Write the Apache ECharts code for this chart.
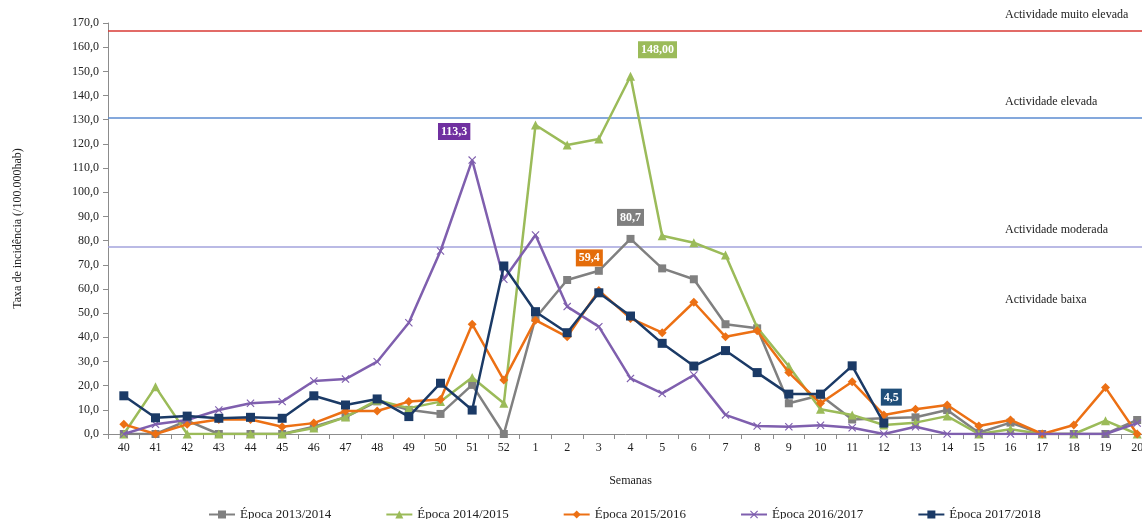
<!DOCTYPE html>
<html>
<head>
<meta charset="utf-8">
<script src="https://cdn.jsdelivr.net/npm/echarts@6/dist/echarts.min.js"></script>
<style>
html,body{margin:0;padding:0;background:#fff;}
#chart{width:1142px;height:519px;}
</style>
</head>
<body>
<div id="chart"></div>
<script>
const weeks = ['40','41','42','43','44','45','46','47','48','49','50','51','52','1','2','3','4','5','6','7','8','9','10','11','12','13','14','15','16','17','18','19','20'];
const epoca1314 = [0,0,5.5,0,0,0,3,7,13.5,10,8.3,20.3,0,48,63.7,67.5,80.7,68.5,64,45.4,43.7,12.7,16,6,6.5,6.9,9.9,0.5,4.7,0,0,0,5.8];
const epoca1415 = [0,19.5,0,0,0,0,2.5,7,14,10.7,13.4,23.4,12.7,127.8,119.5,122,148,82,79.1,74,44,28,10.2,7.9,3.7,4.7,7.4,0,2,0,0,5.5,0];
const epoca1516 = [4,0,4,6,6,3,4.5,9.5,9.5,13.4,14.3,45.4,22.3,47.1,40.2,59.4,47.8,41.9,54.5,40.2,42.7,25.4,12.7,21.6,7.9,10.2,12,3.3,5.8,0,3.7,19.2,0];
const epoca1617 = [0,4,5.8,9.9,12.7,13.4,21.9,22.7,29.9,46,75.7,113.3,64,82.3,52.7,44.4,23,16.8,24.4,7.9,3.3,3,3.6,2.6,0,3,0,0,0,0,0,0,4.5];
const epoca1718 = [15.8,6.7,7.4,6.5,6.9,6.5,15.8,12,14.5,7.2,21,9.9,69.5,50.6,41.9,58.4,48.8,37.5,28.1,34.5,25.4,16.5,16.5,28.2,4.5,null,null,null,null,null,null,null,null];
const seriesNames = ['Época 2013/2014','Época 2014/2015','Época 2015/2016','Época 2016/2017','Época 2017/2018'];
const thresholdValues = [166.8, 130.9, 77.3];
const thresholdNames = ['Actividade muito elevada','Actividade elevada','Actividade moderada','Actividade baixa'];
const peakLabels = [
  {series: 3, week: '51', text: '113,3'},
  {series: 1, week: '4', text: '148,00'},
  {series: 0, week: '4', text: '80,7'},
  {series: 2, week: '3', text: '59,4'},
  {series: 4, week: '12', text: '4,5'}
];

const FONT = '"Liberation Serif", "DejaVu Serif", serif';
const colors = ['#808080', '#9bbb59', '#ec7014', '#7f5fae', '#1b3a66'];
const labelBg = ['#7f7f7f', '#9bbb59', '#e46c0a', '#7030a0', '#1f4e79'];
const labelOffsets = [[0,-4],[27,-8.5],[-9.5,-14.5],[-18,-11],[7.5,-8]];
const thresholdColors = ['#d83a34', '#5b8bd0', '#a3a3dc'];
const symbols = ['rect', 'triangle', 'diamond', 'path://M0,1 L1,0 L5,4 L9,0 L10,1 L6,5 L10,9 L9,10 L5,6 L1,10 L0,9 L4,5 Z', 'rect'];
const symbolSizes = [8, 9, 9, 8, 9];
const allData = [epoca1314, epoca1415, epoca1516, epoca1617, epoca1718];

const series = allData.map((arr, si) => {
  const data = arr.map((v, i) => {
    const pk = peakLabels.find(p => p.series === si && weeks[i] === p.week);
    if (!pk) return v;
    return {
      value: v,
      label: {
        show: true,
        position: 'top',
        distance: 5,
        offset: labelOffsets[si],
        formatter: pk.text,
        color: '#fff',
        fontWeight: 'bold',
        fontSize: 12,
        fontFamily: FONT,
        backgroundColor: labelBg[si],
        padding: [2, 3, 1, 3],
        lineHeight: 14
      }
    };
  });
  const s = {
    name: seriesNames[si],
    type: 'line',
    data: data,
    symbol: symbols[si],
    symbolSize: symbolSizes[si],
    showAllSymbol: true,
    connectNulls: false,
    lineStyle: {color: colors[si], width: 2.5},
    itemStyle: {color: colors[si]},
    emphasis: {disabled: true},
    z: 2 + si
  };
  if (si === 0) {
    s.markLine = {
      silent: true,
      symbol: 'none',
      label: {show: false},
      z: 1,
      data: thresholdValues.map((v, k) => ({
        yAxis: v,
        lineStyle: {color: thresholdColors[k], width: 1.5, type: 'solid'}
      }))
    };
  }
  return s;
});

const labelY = [17, 104, 232, 302];
const chart = echarts.init(document.getElementById('chart'), null, {renderer: 'canvas'});
chart.setOption({
  animation: false,
  backgroundColor: '#fff',
  textStyle: {fontFamily: FONT},
  grid: {left: 108, top: 23, width: 1045, height: 411, containLabel: false, outerBoundsMode: 'none'},
  xAxis: {
    type: 'category',
    data: weeks,
    boundaryGap: true,
    name: 'Semanas',
    nameLocation: 'middle',
    nameGap: 41,
    nameTextStyle: {fontFamily: FONT, fontSize: 12, color: '#222'},
    axisLine: {lineStyle: {color: '#8c8c8c', width: 1}},
    axisTick: {show: true, interval: 0, length: 5, lineStyle: {color: '#8c8c8c'}},
    axisLabel: {interval: 0, fontFamily: FONT, fontSize: 12, color: '#222', margin: 8},
    splitLine: {show: false}
  },
  yAxis: {
    type: 'value',
    min: 0, max: 170, interval: 10,
    name: 'Taxa de incidência (/100.000hab)',
    nameLocation: 'middle',
    nameGap: 84,
    nameRotate: 90,
    nameTextStyle: {fontFamily: FONT, fontSize: 12, color: '#222'},
    axisLine: {show: true, lineStyle: {color: '#8c8c8c', width: 1}},
    axisTick: {show: true, length: 5, lineStyle: {color: '#8c8c8c'}},
    axisLabel: {fontFamily: FONT, fontSize: 12, color: '#222', margin: 9,
      formatter: v => v.toFixed(1).replace('.', ',')},
    splitLine: {show: false}
  },
  legend: {
    data: seriesNames,
    left: 203, top: 503,
    itemWidth: 26, itemHeight: 10, itemGap: 54,
    textStyle: {fontFamily: FONT, fontSize: 13, color: '#222'}
  },
  graphic: thresholdNames.map((t, k) => ({
    type: 'text',
    left: 1005,
    top: labelY[k] - 8,
    style: {text: t, font: '12px ' + FONT, fill: '#222'}
  })),
  series: series
});
</script>
</body>
</html>
